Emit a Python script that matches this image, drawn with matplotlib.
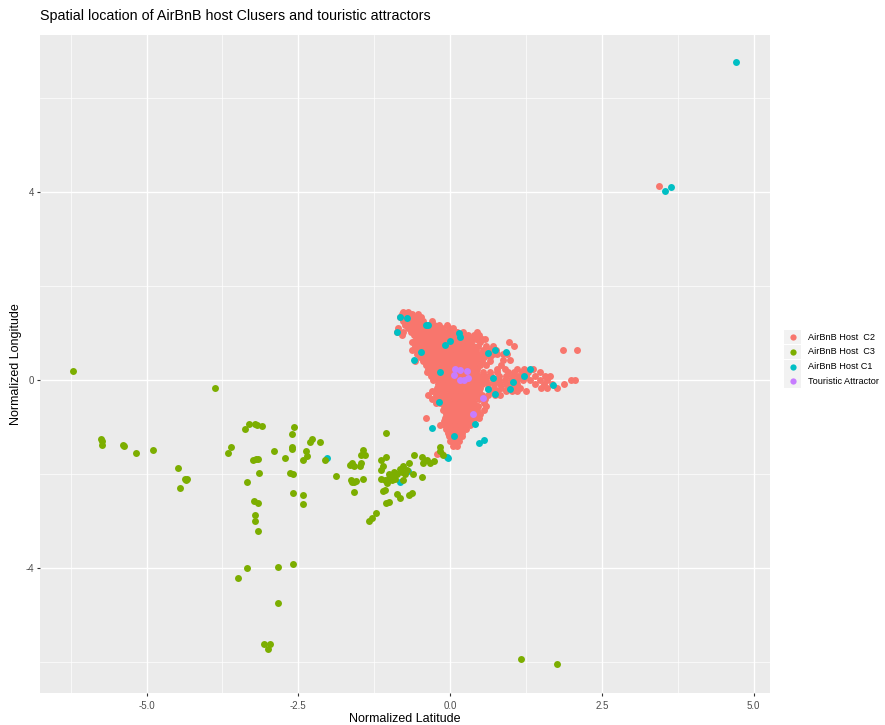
import matplotlib
matplotlib.use("Agg")
import matplotlib.pyplot as plt
from matplotlib.patches import Rectangle
from matplotlib.lines import Line2D

plt.rcParams['font.family'] = ['Liberation Sans', 'DejaVu Sans']

title = "Spatial location of AirBnB host Clusers and touristic attractors"
xlabel = "Normalized Latitude"
ylabel = "Normalized Longitude"
legend_labels = ["AirBnB Host  C2", "AirBnB Host  C3", "AirBnB Host C1", "Touristic Attractor"]
colors = ["#F8766D", "#7CAE00", "#00BFC4", "#C77CFF"]
xticks = [-5.0, -2.5, 0.0, 2.5, 5.0]
xticklabels = ["-5.0", "-2.5", "0.0", "2.5", "5.0"]
yticks = [-4, 0, 4]
yticklabels = ["-4", "0", "4"]

# Cluster C2 (red) - rows of (y, [x values])
red_rows = [
    (1.45, [-0.77, -0.70]),
    (1.40, [-0.80, -0.72, -0.62, -0.53]),
    (1.33, [-0.82, -0.74, -0.66, -0.58, -0.48]),
    (1.25, [-0.78, -0.70, -0.62, -0.54, -0.45, -0.30]),
    (1.17, [-0.75, -0.66, -0.58, -0.50, -0.42, -0.34, -0.26, -0.19, -0.05]),
    (1.10, [-0.85, -0.70, -0.62, -0.54, -0.46, -0.38, -0.30, -0.22, -0.14, -0.02, 0.05]),
    (1.03, [-0.88, -0.78, -0.65, -0.57, -0.49, -0.41, -0.33, -0.25, -0.17, -0.09, 0.00, 0.12, 0.22, 0.45]),
    (0.95, [-0.80, -0.60, -0.52, -0.44, -0.36, -0.28, -0.20, -0.12, -0.04, 0.04, 0.12, 0.20, 0.30, 0.40, 0.48]),
    (0.87, [-0.56, -0.48, -0.40, -0.32, -0.24, -0.16, -0.08, 0.00, 0.08, 0.16, 0.24, 0.32, 0.42, 0.52, 0.58]),
    (0.80, [-0.62, -0.54, -0.46, -0.38, -0.30, -0.22, -0.14, -0.06, 0.02, 0.10, 0.18, 0.26, 0.34, 0.50, 0.97]),
    (0.72, [-0.58, -0.50, -0.42, -0.34, -0.26, -0.18, -0.10, -0.02, 0.06, 0.14, 0.22, 0.30, 0.38, 0.46, 0.60, 0.70, 1.05]),
    (0.64, [-0.62, -0.54, -0.46, -0.38, -0.30, -0.22, -0.14, -0.06, 0.02, 0.10, 0.18, 0.26, 0.34, 0.42, 0.55, 0.66, 0.75, 1.86, 2.09]),
    (0.56, [-0.55, -0.47, -0.39, -0.31, -0.23, -0.15, -0.07, 0.01, 0.09, 0.17, 0.25, 0.33, 0.41, 0.50, 0.60, 0.70, 0.77, 0.88, 0.93]),
    (0.48, [-0.50, -0.42, -0.34, -0.26, -0.18, -0.10, -0.02, 0.06, 0.14, 0.22, 0.30, 0.38, 0.46, 0.56, 0.66]),
    (0.43, [0.88, 0.99]),
    (0.40, [-0.57, -0.45, -0.37, -0.29, -0.21, -0.13, -0.05, 0.03, 0.11, 0.19, 0.27, 0.35, 0.43, 0.53, 0.66]),
    (0.32, [-0.40, -0.32, -0.24, -0.16, -0.08, 0.00, 0.08, 0.16, 0.24, 0.32, 0.40, 0.50, 0.60, 0.84]),
    (0.24, [-0.36, -0.28, -0.20, -0.12, -0.04, 0.04, 0.12, 0.20, 0.28, 0.36, 0.44, 0.78, 0.90, 1.10, 1.21, 1.37]),
    (0.16, [-0.38, -0.30, -0.22, -0.14, -0.06, 0.02, 0.10, 0.18, 0.26, 0.34, 0.42, 0.55, 0.66, 0.78, 0.95, 1.05, 1.18, 1.29, 1.48]),
    (0.08, [-0.32, -0.24, -0.16, -0.08, 0.00, 0.08, 0.16, 0.24, 0.32, 0.40, 0.48, 0.58, 0.68, 0.80, 0.92, 1.02, 1.12, 1.25, 1.40, 1.56, 1.65]),
    (0.00, [-0.28, -0.20, -0.12, -0.04, 0.04, 0.12, 0.20, 0.28, 0.36, 0.44, 0.52, 0.60, 0.70, 0.80, 0.90, 1.00, 1.10, 1.20, 1.32, 1.48, 1.60, 2.00, 2.05]),
    (-0.08, [-0.20, -0.12, -0.04, 0.04, 0.12, 0.20, 0.28, 0.36, 0.44, 0.52, 0.62, 0.72, 0.82, 0.92, 1.00, 1.10, 1.40, 1.55, 1.68, 1.87]),
    (-0.16, [-0.22, -0.14, -0.06, 0.02, 0.10, 0.18, 0.26, 0.34, 0.42, 0.50, 0.62, 0.72, 0.84, 0.96, 1.05, 1.15, 1.50, 1.59, 1.76]),
    (-0.24, [-0.30, -0.20, -0.10, 0.00, 0.08, 0.16, 0.24, 0.32, 0.40, 0.48, 0.66, 0.78, 0.92, 1.02, 1.10, 1.25]),
    (-0.32, [-0.36, -0.24, -0.14, -0.06, 0.02, 0.10, 0.18, 0.26, 0.34, 0.42, 0.52, 0.62, 0.74, 0.82]),
    (-0.40, [-0.30, -0.20, -0.12, -0.04, 0.06, 0.14, 0.22, 0.30, 0.38, 0.48, 0.58]),
    (-0.48, [-0.24, -0.16, -0.08, 0.00, 0.08, 0.16, 0.24, 0.32, 0.40, 0.56]),
    (-0.56, [-0.10, -0.02, 0.06, 0.14, 0.22, 0.30, 0.38, 0.46, 0.60]),
    (-0.64, [-0.12, -0.04, 0.04, 0.12, 0.20, 0.28, 0.36, 0.44, 0.56]),
    (-0.72, [-0.06, 0.02, 0.10, 0.18, 0.26, 0.34, 0.42, 0.50]),
    (-0.80, [-0.40, -0.08, 0.00, 0.08, 0.16, 0.24, 0.32, 0.40, 0.48]),
    (-0.88, [-0.10, -0.02, 0.06, 0.14, 0.22, 0.30, 0.38]),
    (-0.96, [-0.16, -0.08, 0.00, 0.08, 0.16, 0.24, 0.32]),
    (-1.04, [-0.06, 0.02, 0.10, 0.18, 0.26]),
    (-1.12, [-0.04, 0.04, 0.12, 0.20]),
    (-1.20, [-0.02, 0.06, 0.14, 0.20]),
    (-1.30, [0.00, 0.08, 0.15]),
    (-1.40, [0.05, 0.12]),
]
red_extra_x = [3.44, -0.22, -0.14, 0.06]
red_extra_y = [4.13, -1.58, -1.57, -1.38]

# Cluster C3 (green)
green_x = [-6.21, -3.88, -5.75, -5.73, -5.74, -5.39, -5.37, -5.18, -4.89, -4.49, -4.45,
           -4.36, -4.33, -4.35, -3.37, -3.31, -3.21, -3.18, -3.10, -3.65, -3.61,
           -3.24, -3.20, -3.16, -3.14, -3.34, -3.23, -3.17, -3.22, -3.22, -3.16,
           -2.90, -2.72, -2.61, -2.57, -2.61, -2.60, -2.64, -2.58, -2.58, -2.43, -2.43,
           -2.43, -2.35, -2.38, -2.31, -2.28, -2.14, -2.06, -1.88,
           -3.34, -3.50, -2.83, -2.58, -2.83, -3.06, -2.97, -3.00, 1.17, 1.76,
           -1.05, -1.43, -1.46, -1.40, -1.62, -1.65, -1.59, -1.49, -1.47,
           -1.64, -1.59, -1.55, -1.62, -1.43, -1.59, -1.14, -1.05, -1.10,
           -1.13, -1.01, -0.92, -0.82, -0.77, -0.80, -0.74, -0.67, -0.71, -0.61,
           -1.13, -1.07, -1.01, -0.96, -1.04, -0.91, -0.77, -0.47,
           -1.10, -1.08, -0.88, -0.82, -0.68, -0.63, -1.05, -1.00,
           -1.22, -1.29, -1.33, -0.59, -0.47, -0.44, -0.38, -0.33, -0.26,
           -0.16, -0.16, -0.11, -0.98, -0.95, -0.88]
green_y = [0.20, -0.18, -1.26, -1.30, -1.39, -1.39, -1.40, -1.55, -1.49, -1.87, -2.30,
           -2.11, -2.10, -2.13, -1.04, -0.94, -0.94, -0.96, -0.98, -1.55, -1.43,
           -1.70, -1.69, -1.68, -1.97, -2.18, -2.57, -2.62, -2.87, -3.01, -3.21,
           -1.52, -1.67, -1.14, -1.00, -1.47, -1.43, -1.98, -2.01, -2.40, -2.45, -2.64,
           -1.70, -1.62, -1.52, -1.33, -1.26, -1.32, -1.70, -2.04,
           -4.00, -4.21, -3.97, -3.91, -4.74, -5.62, -5.61, -5.72, -5.94, -6.04,
           -1.12, -1.49, -1.60, -1.60, -1.76, -1.81, -1.84, -1.83, -1.77,
           -2.13, -2.16, -2.14, -2.18, -2.11, -2.38, -1.70, -1.63, -1.84,
           -1.91, -1.99, -1.95, -1.90, -1.84, -1.95, -1.99, -1.77, -1.91, -2.00,
           -2.11, -2.12, -2.09, -2.12, -2.20, -2.11, -2.12, -2.07,
           -2.37, -2.35, -2.42, -2.52, -2.45, -2.41, -2.62, -2.59,
           -2.82, -2.94, -2.99, -1.60, -1.63, -1.77, -1.70, -1.77, -1.72,
           -1.42, -1.52, -1.60, -2.05, -2.03, -2.00]

# Cluster C1 (cyan)
cyan_x = [-0.82, -0.71, -0.87, -0.40, -0.60, 0.14, 0.17, 0.00, -0.08, -0.16, 0.63, -0.48,
          -0.36, 0.74, 0.92, 0.71, 1.04, 1.31, 1.21, 1.69, 0.74, 0.99, 0.63, -0.18,
          -0.30, 0.48, 0.56, -0.05, -0.03, 0.06, 0.41, -0.82, -0.70, -2.02,
          4.71, 3.54, 3.64]
cyan_y = [1.35, 1.31, 1.03, 1.17, 0.43, 0.99, 0.92, 0.82, 0.75, 0.18, 0.57, 0.60,
          1.17, 0.64, 0.60, 0.04, -0.04, 0.23, 0.09, -0.11, -0.30, -0.20, -0.20, -0.46,
          -1.02, -1.35, -1.27, -1.63, -1.65, -1.20, -0.93, -2.18, -1.93, -1.65,
          6.77, 4.03, 4.10]

# Touristic attractors (purple)
purple_x = [0.08, 0.16, 0.28, 0.06, 0.16, 0.23, 0.30, 0.55, 0.37]
purple_y = [0.23, 0.21, 0.20, 0.11, 0.00, 0.00, 0.04, -0.39, -0.72]

red_x = [x for y, xs in red_rows for x in xs] + red_extra_x
red_y = [y for y, xs in red_rows for x in xs] + red_extra_y

W, H = 885, 725
fig = plt.figure(figsize=(W / 100, H / 100), dpi=100)
fig.patch.set_facecolor("white")
L, R, T, B = 40, 770, 35, 693
ax = fig.add_axes([L / W, 1 - B / H, (R - L) / W, (B - T) / H])
ax.set_facecolor("#EBEBEB")
for s in ax.spines.values():
    s.set_visible(False)

ax.set_xlim(-6.755, 5.27)
ax.set_ylim(-6.66, 7.34)
ax.set_xticks(xticks)
ax.set_xticklabels(xticklabels)
ax.set_yticks(yticks)
ax.set_yticklabels(yticklabels)
ax.set_xticks([-6.25, -3.75, -1.25, 1.25, 3.75], minor=True)
ax.set_yticks([-6, -2, 2, 6], minor=True)
ax.grid(which="major", color="white", linewidth=1.0)
ax.grid(which="minor", color="white", linewidth=0.5)
ax.set_axisbelow(True)
ax.tick_params(which="major", length=2.5, width=0.8, color="#333333",
               labelsize=7, labelcolor="#4D4D4D", pad=3)
ax.tick_params(axis="y", which="major", pad=2)
ax.tick_params(which="minor", length=0)

ms = 25
ax.scatter(red_x, red_y, s=ms, color=colors[0], linewidths=0, zorder=2)
ax.scatter(cyan_x, cyan_y, s=ms, color=colors[2], linewidths=0, zorder=3)
ax.scatter(green_x, green_y, s=ms, color=colors[1], linewidths=0, zorder=4)
ax.scatter(purple_x, purple_y, s=ms, color=colors[3], linewidths=0, zorder=5)

ax.set_xlabel(xlabel, fontsize=9, labelpad=2)
ax.set_ylabel(ylabel, fontsize=9, labelpad=2)

fig.text(L / W, 1 - 16 / H, title, fontsize=10.3, ha="left", va="center")

# legend
row_centers = [337, 352, 366.5, 381]
for lab, col, yc in zip(legend_labels, colors, row_centers):
    fig.patches.append(Rectangle((784 / W, 1 - (yc + 7) / H), 17 / W, 14 / H,
                                 transform=fig.transFigure, facecolor="#F2F2F2",
                                 edgecolor="none"))
    fig.add_artist(Line2D([792.5 / W], [1 - yc / H], marker="o", markersize=4.5,
                          color=col, markeredgewidth=0, linestyle="none",
                          transform=fig.transFigure))
    fig.text(808 / W, 1 - yc / H, lab, fontsize=6.6, ha="left", va="center")

fig.savefig("out.png", dpi=100)
